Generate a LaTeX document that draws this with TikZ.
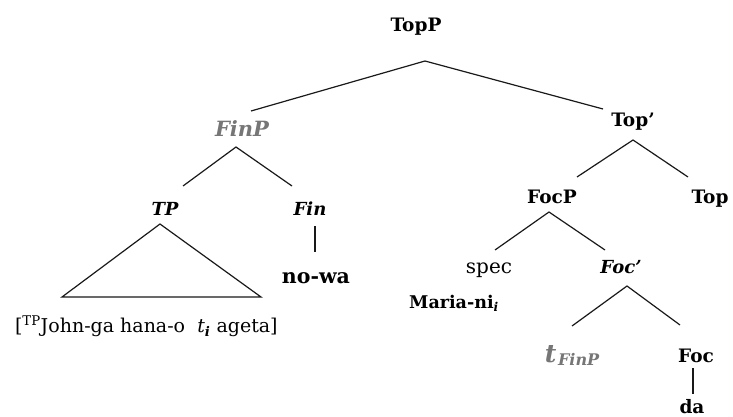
\documentclass[tikz,border=0pt]{standalone}
\usepackage{fontspec}
\setmainfont{DejaVu Serif}
\definecolor{tracegray}{RGB}{118,118,118}

\begin{document}
\begin{tikzpicture}[x=1pt, y=-1pt]
\tikzset{ inner sep=0pt, outer sep=0pt, every node/.style={anchor=base},
  cat/.style={font=\fontsize{18.5}{18.5}\selectfont\bfseries},
  catit/.style={font=\fontsize{18}{18}\selectfont\bfseries\itshape},
  lex/.style={font=\fontsize{19}{19}\selectfont},
  moved/.style={text=tracegray},
  branch/.style={line width=1.2pt, black!90}, }

\useasboundingbox (0,0) rectangle (733,417);

%%% Nos

% raiz
\node [cat] (TopP) at (416,32) {TopP};

% ramo esquerdo
\node [cat, moved, font=\fontsize{21}{21}\selectfont\bfseries\itshape] (FinP) at (242,136) {FinP};
\node [catit] (TP)  at (165,215) {TP};
\node [catit] (Fin) at (310,215) {Fin};
\node [cat, font=\fontsize{20.5}{20.5}\selectfont\bfseries] (nowa) at (316,283) {no-wa};
\node [lex, anchor=base west] (TPtxt) at (15,332)
  {[\textsuperscript{TP}John-ga hana-o~~\textit{t}\textsubscript{\textbf{\textit{i}}} ageta]};

% ramo direito
\node [cat] (Topbar) at (633,127) {Top’};
\node [cat] (FocP)   at (552,203) {FocP};
\node [cat] (Top)    at (710,203) {Top};
\node [lex, font=\fontsize{20}{20}\selectfont] (spec) at (489,273) {spec};
\node [catit] (Focbar) at (621,273) {Foc’};
\node [cat, font=\fontsize{17.5}{17.5}\selectfont\bfseries] (Maria) at (454,308)
  {Maria-ni\textsubscript{\textit{i}}};
\node [moved, font=\bfseries\itshape] (tFinP) at (572,362)
  {{\fontsize{25}{25}\selectfont t}\,\raisebox{-3pt}{\fontsize{16}{16}\selectfont FinP}};
\node [cat] (Foc) at (696,362) {Foc};
\node [cat] (da)  at (692,413) {da};

%%% Galhos

% TopP
\coordinate (TopPv) at (425,61);
\coordinate (FinPe) at (251,111);
\coordinate (Topbe) at (603,109);
\draw [branch] (FinPe) -- (TopPv) -- (Topbe);

% FinP
\coordinate (FinPv) at (236,147);
\coordinate (TPe)   at (183,186);
\coordinate (Fine)  at (292,186);
\draw [branch] (TPe) -- (FinPv) -- (Fine);

% triangulo do TP
\coordinate (TPv) at (160,224);
\coordinate (TPl) at (62,297);
\coordinate (TPr) at (261,297);
\draw [branch] (TPv) -- (TPl) -- (TPr) -- cycle;

% Fin -> no-wa
\coordinate (Fins) at (315,226);
\coordinate (nowan) at (315,252);
\draw [branch] (Fins) -- (nowan);

% Top'
\coordinate (Topbv) at (633,140);
\coordinate (FocPe) at (577,177);
\coordinate (Tope)  at (688,177);
\draw [branch] (FocPe) -- (Topbv) -- (Tope);

% FocP
\coordinate (FocPv) at (549,212);
\coordinate (spece) at (495,250);
\coordinate (Focbe) at (605,250);
\draw [branch] (spece) -- (FocPv) -- (Focbe);

% Foc'
\coordinate (Focbv) at (627,286);
\coordinate (tFinPe) at (572,326);
\coordinate (Foce)  at (680,325);
\draw [branch] (tFinPe) -- (Focbv) -- (Foce);

% Foc -> da
\coordinate (Focs) at (693,368);
\coordinate (dan)  at (693,394);
\draw [branch] (Focs) -- (dan);

\end{tikzpicture}
\end{document}
